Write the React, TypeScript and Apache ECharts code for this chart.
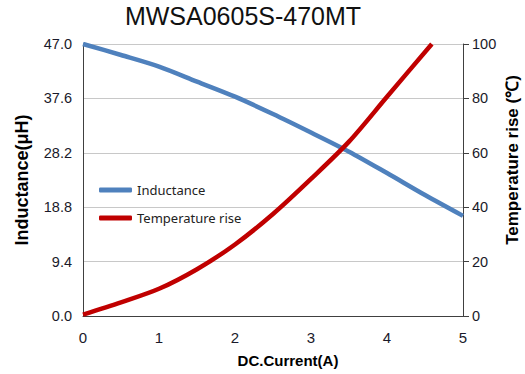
import React, { useEffect, useRef } from "react";
import * as echarts from "echarts";

const current = [0, 0.5, 1, 1.5, 2, 2.5, 3, 3.5, 4, 4.5, 5];
const inductance = [47, 45.1, 43.1, 40.5, 37.9, 34.9, 31.7, 28.4, 24.7, 20.9, 17.3];
const tempCurrent = [0, 0.5, 1, 1.5, 2, 2.5, 3, 3.5, 4, 4.59];
const tempRise = [0.5, 5, 10, 17.2, 26.3, 37.5, 50.4, 64.1, 80.6, 100];
const leftTicks = [0, 9.4, 18.8, 28.2, 37.6, 47.0];
const rightTicks = [0, 20, 40, 60, 80, 100];
const xTicks = [0, 1, 2, 3, 4, 5];

const labelFont = "'Liberation Sans', Arial, sans-serif";
const titleFont = "'Liberation Sans', Arial, sans-serif";

export default function App() {
  const ref = useRef<HTMLDivElement>(null);
  useEffect(() => {
    document.body.style.margin = "0";
    const chart = echarts.init(ref.current!, null, { renderer: "svg" });
    chart.setOption({
      animation: false,
      backgroundColor: "#ffffff",
      title: {
        text: "MWSA0605S-470MT",
        left: 238,
        top: -2,
        textAlign: "center",
        textStyle: { fontFamily: titleFont, fontSize: 25, fontWeight: "normal", color: "#111" },
      },
      legend: {
        orient: "vertical",
        left: 99,
        top: 182,
        padding: 0,
        itemWidth: 33,
        itemHeight: 5,
        itemGap: 12,
        icon: "roundRect",
        textStyle: { fontFamily: "'Noto Sans', sans-serif", fontSize: 13, color: "#222", lineHeight: 16 },
        data: ["Inductance", "Temperature rise"],
      },
      grid: { left: 83, right: 62, top: 44, bottom: 58, outerBoundsMode: "none", containLabel: false },
      xAxis: {
        type: "value",
        min: xTicks[0],
        max: xTicks[xTicks.length - 1],
        interval: 1,
        axisLine: { lineStyle: { color: "#404040", width: 1 } },
        axisTick: { show: false },
        splitLine: { show: false },
        axisLabel: { margin: 14, fontFamily: labelFont, fontSize: 15, color: "#1a1a2a" },
      },
      yAxis: [
        {
          type: "value",
          min: leftTicks[0],
          max: leftTicks[leftTicks.length - 1],
          interval: 9.4,
          position: "left",
          name: "Inductance(μH)",
          nameLocation: "middle",
          nameGap: 52,
          nameRotate: 90,
          nameTextStyle: { fontFamily: titleFont, fontSize: 18, fontWeight: "bold", color: "#000" },
          axisLine: { show: true, lineStyle: { color: "#404040", width: 1 } },
          axisTick: { show: false },
          splitLine: { show: true, lineStyle: { color: "#c8c8c8", width: 1 } },
          axisLabel: {
            margin: 11,
            fontFamily: labelFont,
            fontSize: 14.5,
            color: "#1a1a2a",
            formatter: (v: number) => v.toFixed(1),
          },
        },
        {
          type: "value",
          min: rightTicks[0],
          max: rightTicks[rightTicks.length - 1],
          interval: 20,
          position: "right",
          axisLine: { show: true, lineStyle: { color: "#404040", width: 1 } },
          axisTick: { show: true, inside: false, length: 6, lineStyle: { color: "#404040" } },
          splitLine: { show: false },
          axisLabel: { margin: 9, fontFamily: labelFont, fontSize: 14.5, color: "#1a1a2a" },
        },
      ],
      graphic: [
        {
          type: "text",
          x: 288,
          y: 360,
          style: {
            text: "DC.Current(A)",
            fontFamily: titleFont,
            fontSize: 15,
            fontWeight: "bold",
            fill: "#000",
            textAlign: "center",
            textVerticalAlign: "middle",
          },
        },
        {
          type: "text",
          x: 512,
          y: 160,
          rotation: Math.PI / 2,
          style: {
            text: "Temperature rise (℃)",
            fontFamily: titleFont,
            fontSize: 17,
            fontWeight: "bold",
            fill: "#000",
            textAlign: "center",
            textVerticalAlign: "middle",
          },
        },
      ],
      series: [
        {
          name: "Inductance",
          type: "line",
          yAxisIndex: 0,
          smooth: 0.3,
          showSymbol: false,
          color: "#4f81bd",
          lineStyle: { color: "#4f81bd", width: 4.5 },
          data: current.map((x, i) => [x, inductance[i]]),
        },
        {
          name: "Temperature rise",
          type: "line",
          yAxisIndex: 1,
          smooth: 0.3,
          showSymbol: false,
          color: "#c00000",
          lineStyle: { color: "#c00000", width: 4.5 },
          data: tempCurrent.map((x, i) => [x, tempRise[i]]),
        },
      ],
    });
    return () => chart.dispose();
  }, []);
  return <div ref={ref} style={{ width: 525, height: 374 }} />;
}
